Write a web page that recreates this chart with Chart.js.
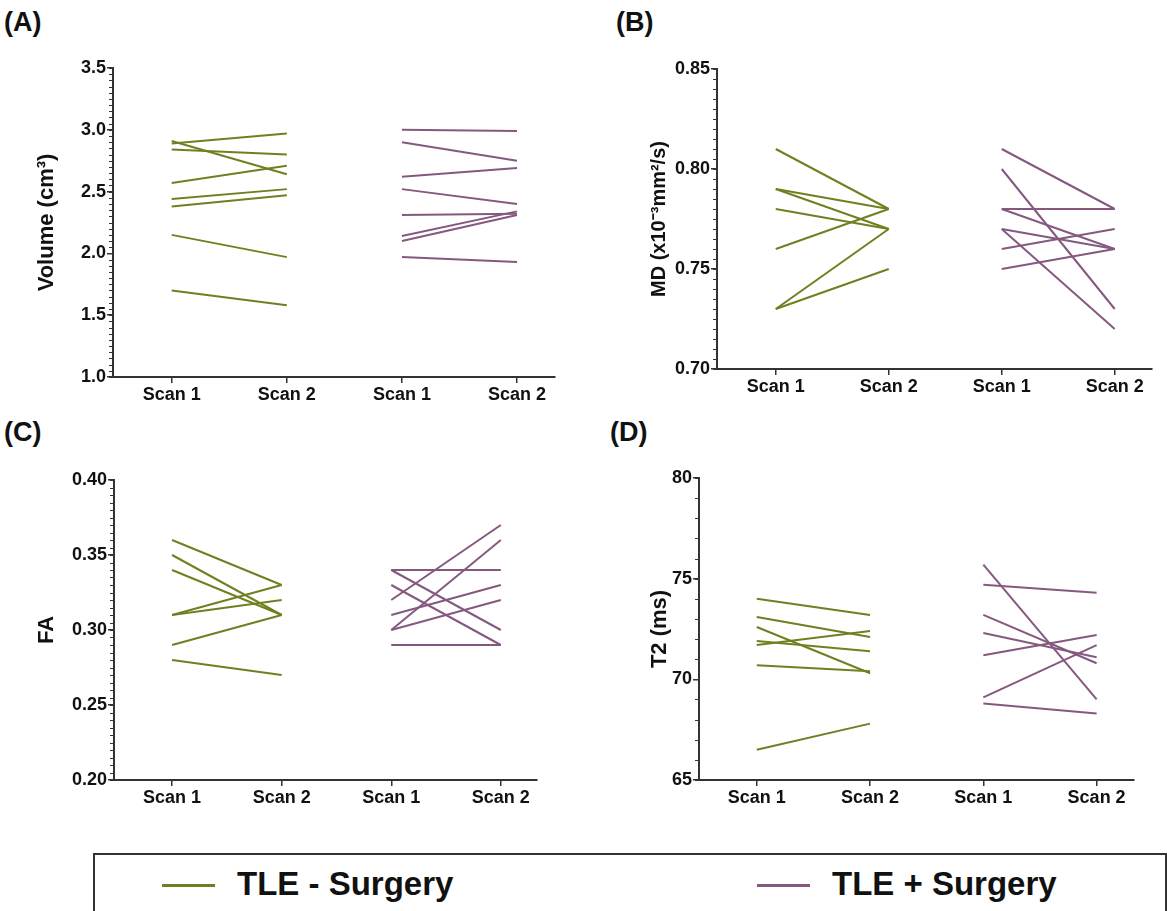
<!DOCTYPE html>
<html>
<head>
<meta charset="utf-8">
<script src="https://cdn.jsdelivr.net/npm/chart.js@4.4.1/dist/chart.umd.min.js"></script>
<style>
  body { margin: 0; background: #fff; width: 1167px; height: 911px; overflow: hidden; position: relative; font-family: "Liberation Sans", Arial, sans-serif; }
  canvas { position: absolute; }
  .tag { position: absolute; font: bold 27px "Liberation Sans", Arial, sans-serif; color: #111; }
  .legend { position: absolute; left: 93px; top: 853px; width: 1070px; height: 80px; border: 2px solid #333; }
  .key { position: absolute; top: 29px; height: 3px; width: 53px; }
  .lbl { position: absolute; top: 10px; font: bold 33px "Liberation Sans Narrow", "Arial Narrow", sans-serif; color: #111; white-space: nowrap; }
</style>
</head>
<body>
<div class="tag" style="left:4px;top:7px">(A)</div>
<div class="tag" style="left:616px;top:7px">(B)</div>
<div class="tag" style="left:4px;top:417px">(C)</div>
<div class="tag" style="left:610px;top:417px">(D)</div>

<canvas id="chartA"></canvas>
<canvas id="chartB"></canvas>
<canvas id="chartC"></canvas>
<canvas id="chartD"></canvas>

<div class="legend">
  <div class="key" style="left:67px;background:#6f8020"></div>
  <div class="lbl" id="lblNo" style="left:142px"></div>
  <div class="key" style="left:662px;background:#85597f"></div>
  <div class="lbl" id="lblYes" style="left:737px"></div>
</div>

<script>
const scanLabels = ['Scan 1', 'Scan 2', 'Scan 1', 'Scan 2'];
const groupNames = ['TLE - Surgery', 'TLE + Surgery'];
const groupColors = ['#6f8020', '#85597f'];

// (A) volume, cm3 : [scan 1, scan 2] per subject
const volumeNoSurgery = [[2.89, 2.97], [2.91, 2.64], [2.84, 2.80], [2.57, 2.71], [2.44, 2.52], [2.38, 2.47], [2.15, 1.97], [1.70, 1.58]];
const volumeSurgery = [[3.00, 2.99], [2.90, 2.75], [2.62, 2.69], [2.52, 2.40], [2.31, 2.32], [2.14, 2.34], [2.10, 2.31], [1.97, 1.93]];
const volumeTicks = [1.0, 1.5, 2.0, 2.5, 3.0, 3.5];

// (B) MD
const mdNoSurgery = [[0.81, 0.78], [0.79, 0.78], [0.79, 0.77], [0.78, 0.77], [0.76, 0.78], [0.73, 0.77], [0.73, 0.75]];
const mdSurgery = [[0.81, 0.78], [0.80, 0.73], [0.78, 0.78], [0.78, 0.76], [0.77, 0.76], [0.77, 0.72], [0.76, 0.77], [0.75, 0.76]];
const mdTicks = [0.70, 0.75, 0.80, 0.85];

// (C) FA
const faNoSurgery = [[0.36, 0.33], [0.35, 0.31], [0.34, 0.31], [0.31, 0.33], [0.31, 0.32], [0.29, 0.31], [0.28, 0.27]];
const faSurgery = [[0.34, 0.34], [0.34, 0.30], [0.33, 0.29], [0.32, 0.37], [0.31, 0.33], [0.30, 0.36], [0.30, 0.32], [0.29, 0.29]];
const faTicks = [0.20, 0.25, 0.30, 0.35, 0.40];

// (D) T2, ms
const t2NoSurgery = [[74.0, 73.2], [73.1, 72.1], [72.6, 70.3], [71.9, 71.4], [71.7, 72.4], [70.7, 70.4], [66.5, 67.8]];
const t2Surgery = [[75.7, 69.0], [74.7, 74.3], [73.2, 70.8], [72.3, 71.1], [71.2, 72.2], [69.1, 71.7], [68.8, 68.3]];
const t2Ticks = [65, 70, 75, 80];

document.getElementById('lblNo').textContent = groupNames[0];
document.getElementById('lblYes').textContent = groupNames[1];

// small ticks between the labelled ones on the y axis
const minorTicks = {
  id: 'minorTicks',
  afterDraw(chart, args, opts) {
    if (!opts.step) return;
    const y = chart.scales.y;
    const ctx = chart.ctx;
    const x0 = chart.chartArea.left;
    ctx.save();
    ctx.strokeStyle = '#333';
    ctx.lineWidth = 1;
    const n = Math.round((y.max - y.min) / opts.step);
    for (let i = 0; i <= n; i++) {
      const py = Math.round(y.getPixelForValue(y.min + i * opts.step)) + 0.5;
      ctx.beginPath();
      ctx.moveTo(x0 - opts.len, py);
      ctx.lineTo(x0, py);
      ctx.stroke();
    }
    ctx.restore();
  }
};

function pairsToSets(pairs, group) {
  const xs = group === 0 ? [1, 2] : [3, 4];
  return pairs.map(p => ({
    label: groupNames[group],
    data: [{ x: xs[0], y: p[0] }, { x: xs[1], y: p[1] }],
    borderColor: groupColors[group],
    borderWidth: 2,
    pointRadius: 0,
    tension: 0,
  }));
}

function makePanel(id, p) {
  const canvas = document.getElementById(id);
  const w = p.right + 14 - p.left;
  const h = p.bottom + 38 - p.top;
  canvas.width = w; canvas.height = h;
  canvas.style.left = p.left + 'px';
  canvas.style.top = p.top + 'px';
  canvas.style.width = w + 'px';
  canvas.style.height = h + 'px';

  new Chart(canvas, {
    type: 'line',
    data: { datasets: [...pairsToSets(p.noSurgery, 0), ...pairsToSets(p.surgery, 1)] },
    plugins: [minorTicks],
    options: {
      responsive: false,
      animation: false,
      devicePixelRatio: 1,
      layout: { padding: { top: p.chartTop - p.top, right: 14, left: 0, bottom: 0 } },
      plugins: {
        legend: { display: false },
        tooltip: { enabled: false },
        minorTicks: { step: p.minor, len: 4 },
      },
      scales: {
        x: {
          type: 'linear',
          min: p.xMin,
          max: 4.33,
          afterBuildTicks: s => { s.ticks = [1, 2, 3, 4].map(v => ({ value: v })); },
          afterFit: s => { s.height = 38; },
          ticks: {
            color: '#111',
            font: { family: 'Liberation Sans', weight: 'bold', size: 18 },
            padding: 1,
            maxRotation: 0,
            callback: v => scanLabels[v - 1],
          },
          grid: { drawOnChartArea: false, drawTicks: true, tickLength: 6, color: '#333', lineWidth: 1.5 },
          border: { display: true, color: '#333', width: 2 },
        },
        y: {
          min: p.ticks[0],
          max: p.ticks[p.ticks.length - 1],
          afterBuildTicks: s => { s.ticks = p.ticks.map(v => ({ value: v })); },
          afterFit: s => { s.width = p.axisX - p.left; },
          ticks: {
            color: '#111',
            font: { family: 'Liberation Sans', weight: 'bold', size: 18 },
            padding: 1,
            callback: v => v.toFixed(p.decimals),
          },
          grid: { drawOnChartArea: false, drawTicks: true, tickLength: 6, color: '#333', lineWidth: 1.5 },
          border: { display: true, color: '#333', width: 2 },
          title: {
            display: true,
            text: p.title,
            color: '#111',
            font: { family: 'Liberation Sans', weight: 'bold', size: p.titleSize },
            padding: 0,
          },
        },
      },
    },
  });
}

makePanel('chartA', {
  left: 34, top: 50, axisX: 113, chartTop: 68, right: 555, bottom: 377, xMin: 0.49,
  ticks: volumeTicks, decimals: 1, minor: 0.05, title: 'Volume (cm\u00B3)', titleSize: 22,
  noSurgery: volumeNoSurgery, surgery: volumeSurgery,
});
makePanel('chartB', {
  left: 647, top: 50, axisX: 717, chartTop: 69, right: 1152, bottom: 369, xMin: 0.48,
  ticks: mdTicks, decimals: 2, minor: 0.005, title: 'MD (x10\u207B\u00B3mm\u00B2/s)', titleSize: 20,
  noSurgery: mdNoSurgery, surgery: mdSurgery,
});
makePanel('chartC', {
  left: 34, top: 460, axisX: 114, chartTop: 480, right: 537, bottom: 780, xMin: 0.47,
  ticks: faTicks, decimals: 2, minor: 0.005, title: 'FA', titleSize: 22,
  noSurgery: faNoSurgery, surgery: faSurgery,
});
makePanel('chartD', {
  left: 647, top: 460, axisX: 699, chartTop: 478, right: 1134, bottom: 780, xMin: 0.49,
  ticks: t2Ticks, decimals: 0, minor: 1, title: 'T2 (ms)', titleSize: 22,
  noSurgery: t2NoSurgery, surgery: t2Surgery,
});
</script>
</body>
</html>
